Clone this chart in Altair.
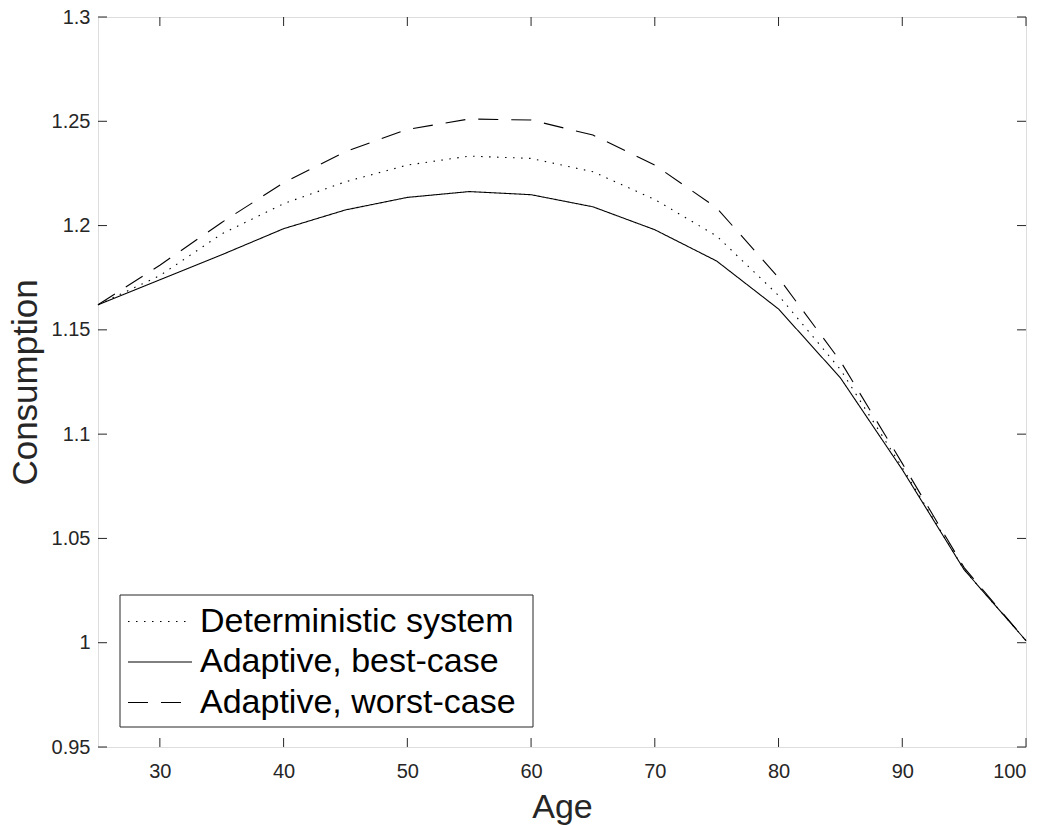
import altair as alt
import pandas as pd

ages = [25, 30, 35, 40, 45, 50, 55, 60, 65, 70, 75, 80, 85, 90, 95, 100]
deterministic = [1.162, 1.176, 1.196, 1.2105, 1.221, 1.229, 1.2333, 1.2322, 1.2258, 1.2125, 1.195, 1.1665, 1.131, 1.084, 1.035, 1.001]
best_case = [1.162, 1.174, 1.186, 1.1985, 1.2075, 1.2135, 1.2163, 1.2148, 1.209, 1.198, 1.183, 1.160, 1.127, 1.083, 1.035, 1.001]
worst_case = [1.162, 1.181, 1.2015, 1.2205, 1.2355, 1.2461, 1.2511, 1.2506, 1.2434, 1.229, 1.2085, 1.175, 1.135, 1.086, 1.036, 1.001]

series_names = ["Deterministic system", "Adaptive, best-case", "Adaptive, worst-case"]
series_dash = [[1.5, 6.5], [1, 0], [20, 13]]
x_ticks = [30, 40, 50, 60, 70, 80, 90, 100]
y_ticks = [0.95, 1.0, 1.05, 1.1, 1.15, 1.2, 1.25, 1.3]

rows = []
for name, vals in zip(series_names, [deterministic, best_case, worst_case]):
    for a, v in zip(ages, vals):
        rows.append({"Age": a, "Consumption": v, "series": name})
df = pd.DataFrame(rows)
xt = pd.DataFrame({"t": x_ticks})
yt = pd.DataFrame({"t": y_ticks})
leg = pd.DataFrame({"series": series_names, "row": [0, 1, 2]})

W, H = 928, 730
FONT = "Liberation Sans"
AX = "#262626"

xscale = alt.Scale(domain=[25, 100], nice=False, zero=False)
yscale = alt.Scale(domain=[0.95, 1.3], nice=False, zero=False)
dash_scale = alt.Scale(domain=series_names, range=series_dash)

lines = alt.Chart(df).mark_line(color="black", strokeWidth=1.1).encode(
    x=alt.X("Age:Q", scale=xscale,
            axis=alt.Axis(values=x_ticks, title="Age", ticks=False, domain=False, grid=False,
                          labelFontSize=20, labelPadding=14, labelColor=AX,
                          titleFontSize=34, titleFontWeight="normal", titlePadding=9, titleColor=AX)),
    y=alt.Y("Consumption:Q", scale=yscale,
            axis=alt.Axis(values=y_ticks, title="Consumption", format=".3~g", ticks=False, domain=False,
                          grid=False, labelFontSize=20, labelPadding=8, labelColor=AX,
                          titleFontSize=35, titleFontWeight="normal", titlePadding=8, titleColor=AX)),
    strokeDash=alt.StrokeDash("series:N", scale=dash_scale, legend=None),
    order="Age:Q",
)

xt_bot = alt.Chart(xt).mark_rule(color=AX, strokeWidth=1).encode(
    x=alt.X("t:Q", scale=xscale), y=alt.value(H), y2=alt.value(H - 9))
xt_top = alt.Chart(xt).mark_rule(color=AX, strokeWidth=1).encode(
    x=alt.X("t:Q", scale=xscale), y=alt.value(0), y2=alt.value(9))
yt_left = alt.Chart(yt).mark_rule(color=AX, strokeWidth=1).encode(
    y=alt.Y("t:Q", scale=yscale), x=alt.value(0), x2=alt.value(9))
yt_right = alt.Chart(yt).mark_rule(color=AX, strokeWidth=1).encode(
    y=alt.Y("t:Q", scale=yscale), x=alt.value(W), x2=alt.value(W - 9))

# manual legend (pixel layout relative to plot area)
leg_box = alt.Chart(leg).transform_aggregate(n="count()").mark_rect(
    fill="white", stroke=AX, strokeWidth=1).encode(
    x=alt.value(22), x2=alt.value(435), y=alt.value(578), y2=alt.value(710))
leg_base = alt.Chart(leg).transform_calculate(py="604.5 + datum.row * 40.5")
leg_lines = leg_base.mark_rule(color="black", strokeWidth=1.1).encode(
    x=alt.value(30), x2=alt.value(94),
    y=alt.Y("py:Q", scale=None),
    strokeDash=alt.StrokeDash("series:N", scale=dash_scale, legend=None),
)
leg_text = leg_base.mark_text(align="left", baseline="middle", fontSize=34, color="black",
                              font=FONT).encode(
    x=alt.value(102), y=alt.Y("py:Q", scale=None), text="series:N")

chart = alt.layer(lines, xt_bot, xt_top, yt_left, yt_right, leg_box, leg_lines, leg_text).properties(
    width=W, height=H,
    autosize=alt.AutoSizeParams(type="none"),
    padding={"left": 90, "top": 9, "right": 11, "bottom": 80},
).configure_view(stroke=AX, strokeWidth=1).configure(font=FONT, background="white")

chart.save("out.html", embed_options={"renderer": "svg", "actions": False})
